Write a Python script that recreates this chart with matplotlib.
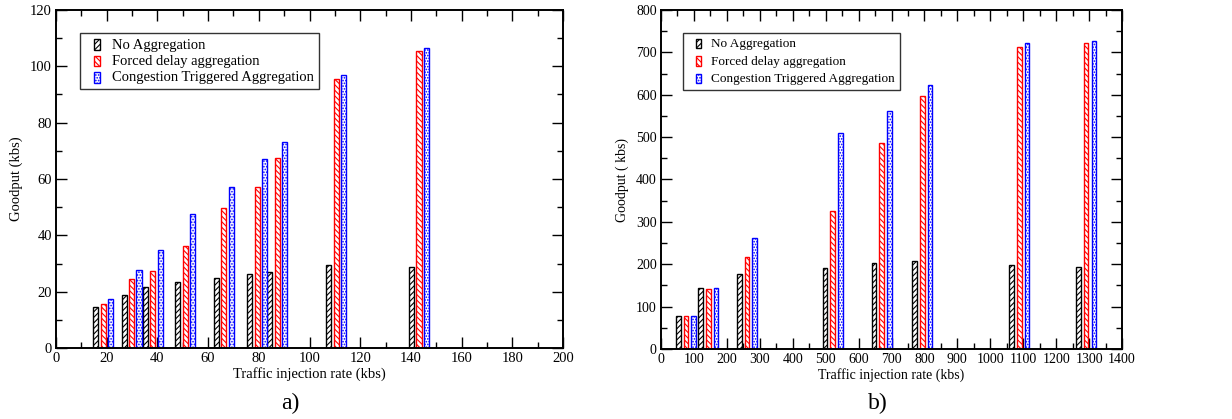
import matplotlib
matplotlib.use("Agg")
import matplotlib.pyplot as plt
from matplotlib.patches import Patch, Rectangle
from matplotlib.legend_handler import HandlerPatch
from matplotlib.ticker import MultipleLocator

plt.rcParams['font.family'] = ['Liberation Serif', 'DejaVu Serif']
plt.rcParams['hatch.linewidth'] = 0.8

series_names = ["No Aggregation", "Forced delay aggregation", "Congestion Triggered Aggregation"]
colors = ["black", "red", "blue"]
hatches = ["//////", "\\\\\\\\\\\\", "......"]

# Panel a) group centres (kbs) and goodput values
rate_a = [18.6, 29.8, 38.1, 51.0, 66.2, 79.4, 87.3, 110.5, 143.2]
no_agg_a = [14.6, 18.8, 21.5, 23.4, 24.8, 26.3, 27.1, 29.5, 28.6]
forced_a = [15.6, 24.5, 27.3, 36.3, 49.7, 57.0, 67.6, 95.5, 105.4]
congestion_a = [17.3, 27.7, 34.8, 47.6, 57.0, 67.0, 73.1, 96.8, 106.4]

# Panel b) group centres (kbs) and goodput values
rate_b = [76, 144, 261, 521, 670, 794, 1088, 1291]
no_agg_b = [78, 143, 178, 192, 204, 207, 199, 194]
forced_b = [78, 141, 217, 325, 486, 598, 713, 723]
congestion_b = [78, 143, 263, 510, 562, 622, 723, 727]

fig = plt.figure(figsize=(12.32, 4.19), dpi=100)


class NarrowHandler(HandlerPatch):
    def __init__(self, frac=0.2, **kw):
        super().__init__(**kw)
        self.frac = frac

    def create_artists(self, legend, orig_handle, xdescent, ydescent, width, height, fontsize, trans):
        w = width * self.frac
        h = height * 1.0
        p = Rectangle((-xdescent + (width - w) / 2.0 - width * 0.06, -ydescent - 0.1 * height), w, h,
                      facecolor='white', edgecolor=orig_handle.get_edgecolor(),
                      hatch=orig_handle.get_hatch(), linewidth=1.0, transform=trans)
        return [p]


def panel(rect, rates, vals, offset, width, xlim, ylim, xmaj, xmin, ymaj, ymin, ylabel, tag, tagx,
          fs, lfs, lspace):
    ax = fig.add_axes(rect)
    for i, (v, c, h) in enumerate(zip(vals, colors, hatches)):
        pos = [r + (i - 1) * offset for r in rates]
        ax.bar(pos, v, width=width, facecolor='white', edgecolor=c, hatch=h,
               linewidth=1.0, label=series_names[i], zorder=2)
    ax.set_xlim(*xlim)
    ax.set_ylim(*ylim)
    ax.xaxis.set_major_locator(MultipleLocator(xmaj))
    ax.xaxis.set_minor_locator(MultipleLocator(xmin))
    ax.yaxis.set_major_locator(MultipleLocator(ymaj))
    ax.yaxis.set_minor_locator(MultipleLocator(ymin))
    ax.tick_params(which='both', direction='in', top=True, right=True, labelsize=fs, pad=3)
    ax.tick_params(which='major', length=7.7, width=1.0)
    ax.tick_params(which='minor', length=4.2, width=1.0)
    for s in ax.spines.values():
        s.set_linewidth(1.4)
    ax.set_xlabel("Traffic injection rate (kbs)", fontsize=fs, labelpad=1)
    ax.set_ylabel(ylabel, fontsize=fs, labelpad=5)
    handles = [Patch(facecolor='white', edgecolor=c, hatch=h, linewidth=1.0) for c, h in zip(colors, hatches)]
    leg = ax.legend(handles, series_names, loc='upper left', bbox_to_anchor=(0.048, 0.932),
                    fontsize=lfs, frameon=True, fancybox=False, edgecolor='black',
                    handlelength=1.8, handleheight=0.75, handletextpad=0.0, labelspacing=lspace,
                    borderpad=0.35, borderaxespad=0.0,
                    handler_map={Patch: NarrowHandler(frac=0.2)})
    leg.get_frame().set_linewidth(1.0)
    fig.text(tagx, 0.012, tag, fontsize=17, ha='center', va='bottom')
    return ax


panel([56/1232, 71/419, 507/1232, 338/419], rate_a, [no_agg_a, forced_a, congestion_a],
      2.95, 2.0, (0, 200), (0, 120), 20, 10, 20, 10, "Goodput (kbs)", "a)", 290/1232,
      10.5, 10.5, 0.2)
panel([661/1232, 70/419, 461/1232, 339/419], rate_b, [no_agg_b, forced_b, congestion_b],
      23.5, 14, (0, 1400), (0, 800), 100, 50, 100, 50, "Goodput ( kbs)", "b)", 878/1232,
      10.0, 9.5, 0.38)

fig.savefig("out.png", dpi=100)
